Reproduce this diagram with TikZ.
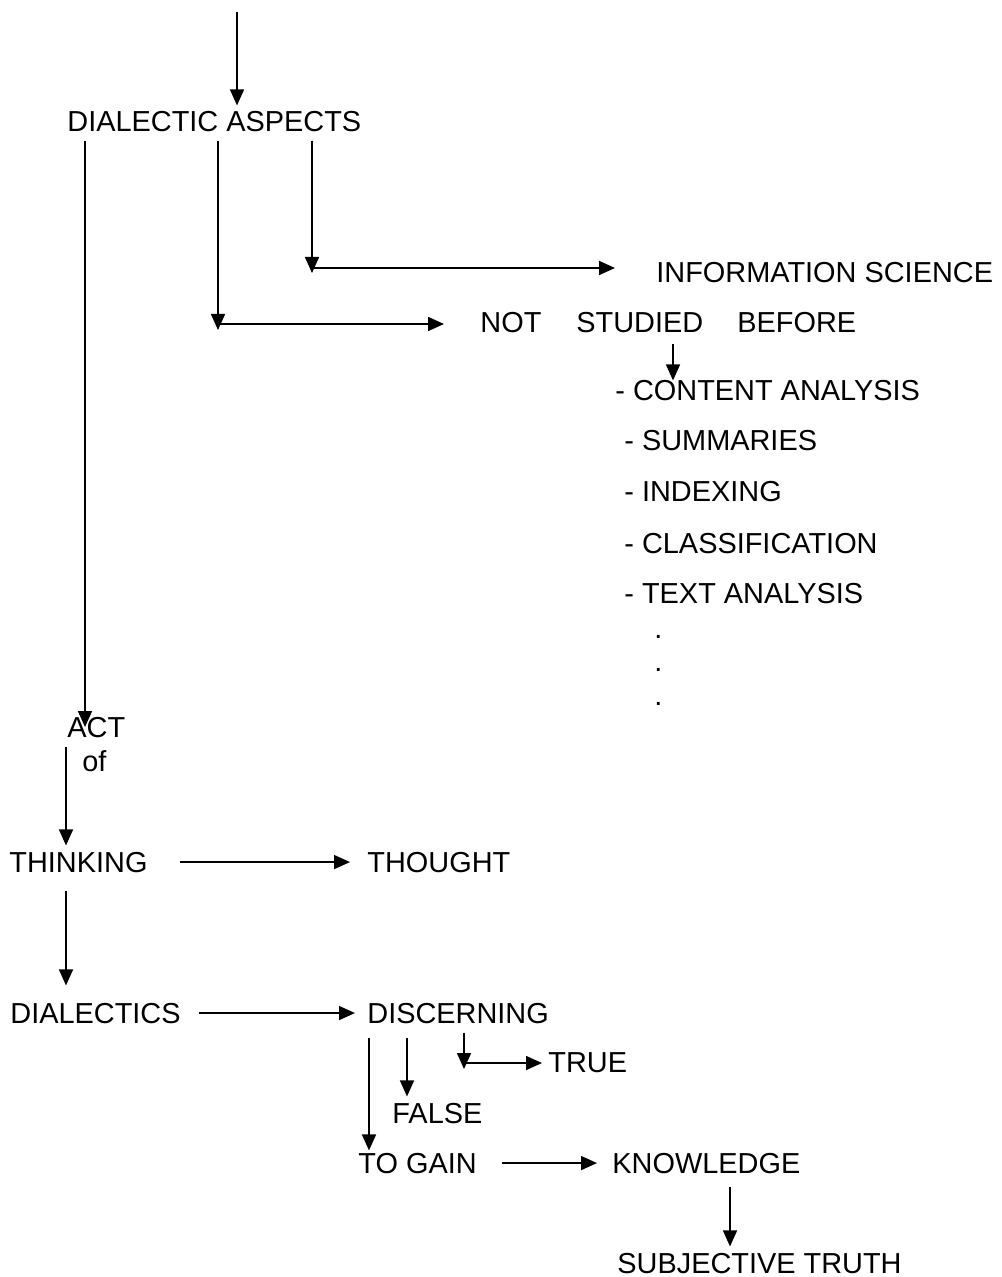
\documentclass[tikz,border=0pt]{standalone}
\usepackage{fontspec}
\setmainfont{Liberation Sans}
\usetikzlibrary{arrows.meta}
\begin{document}
\begin{tikzpicture}[x=0.5pt,y=-0.5pt,
  txt/.style={anchor=base west,inner sep=3pt,font=\fontsize{14.45pt}{17pt}\selectfont},
  arr/.style={-{Triangle[length=8pt,width=7pt]},line width=0.8pt}]
  \useasboundingbox (0,0) rectangle (1001,1277);
  % top part
  \node[txt] (aspects) at (61,132) {DIALECTIC ASPECTS};
  \node[txt] (info) at (650,283) {INFORMATION SCIENCE};
  \node[txt] (notw) at (474,333) {NOT};
  \node[txt] (studied) at (570,333) {STUDIED};
  \node[txt] (before) at (731,333) {BEFORE};
  % list of topics
  \node[txt] (content) at (609,401) {- CONTENT ANALYSIS};
  \node[txt] (summ) at (618,451) {- SUMMARIES};
  \node[txt] (index) at (618,502) {- INDEXING};
  \node[txt] (classif) at (618,553) {- CLASSIFICATION};
  \node[txt] (textan) at (618,603) {- TEXT ANALYSIS};
  \node[txt] (dotA) at (648,638) {.};
  \node[txt] (dotB) at (648,671) {.};
  \node[txt] (dotC) at (648,705) {.};
  % left column
  \node[txt] (act) at (61,737) {ACT};
  \node[txt] (of) at (76,771) {of};
  \node[txt] (thinking) at (3,872) {THINKING};
  \node[txt] (thought) at (361,872) {THOUGHT};
  \node[txt] (dialectics) at (4,1023) {DIALECTICS};
  \node[txt] (discerning) at (361,1023) {DISCERNING};
  \node[txt] (trueN) at (542,1072) {TRUE};
  \node[txt] (falseN) at (386,1123) {FALSE};
  \node[txt] (togain) at (352,1173) {TO GAIN};
  \node[txt] (knowledge) at (606,1173) {KNOWLEDGE};
  \node[txt] (subj) at (611,1273) {SUBJECTIVE TRUTH};
  % helper points
  \coordinate (topin) at (237,12);
  \coordinate (xL) at (85,0);
  \coordinate (xT) at (66,0);
  \coordinate (bendM) at (218,324);
  \coordinate (bendR) at (312,268);
  \coordinate (bendT) at (464,1063);
  \coordinate (xS) at (673,0);
  \coordinate (xC) at (369,0);
  \coordinate (xF) at (407,0);
  \coordinate (xK) at (730,0);
  % connectors
  \draw[arr] (topin) -- (topin |- aspects.north);
  \draw[arr,shorten <=1pt] (aspects.south -| xL) -- (act.center -| xL);
  \draw[arr,shorten <=1pt,shorten >=-3pt] (aspects.south -| bendM) -- (bendM);
  \draw[arr,shorten >=15pt] (bendM) -- (notw.west |- bendM);
  \draw[arr,shorten <=1pt,shorten >=-2.5pt] (aspects.south -| bendR) -- (bendR);
  \draw[arr,shorten >=17.5pt] (bendR) -- (info.west |- bendR);
  \draw[arr,shorten <=2pt,shorten >=-3pt] (studied.south -| xS) -- (content.north -| xS);
  \draw[arr,shorten <=1.5pt] (act.south -| xT) -- (thinking.north -| xT);
  \draw[arr,shorten <=13pt,shorten >=5.5pt] (thinking.east) -- (thought.west |- thinking.east);
  \draw[arr,shorten <=6pt,shorten >=5.5pt] (thinking.south -| xT) -- (dialectics.north -| xT);
  \draw[arr,shorten <=6pt,shorten >=3pt] (dialectics.east) -- (discerning.west |- dialectics.east);
  \draw[arr,shorten <=4pt,shorten >=-2pt] (discerning.south -| xC) -- (togain.north -| xC);
  \draw[arr,shorten <=4pt] (discerning.south -| xF) -- (falseN.north -| xF);
  \draw[arr,shorten <=1.5pt,shorten >=-3pt] (discerning.south -| bendT) -- (bendT);
  \draw[arr] (bendT) -- (trueN.west |- bendT);
  \draw[arr,shorten <=9.5pt,shorten >=4.5pt] (togain.east) -- (knowledge.west |- togain.east);
  \draw[arr,shorten <=3.5pt] (knowledge.south -| xK) -- (subj.north -| xK);
\end{tikzpicture}
\end{document}
